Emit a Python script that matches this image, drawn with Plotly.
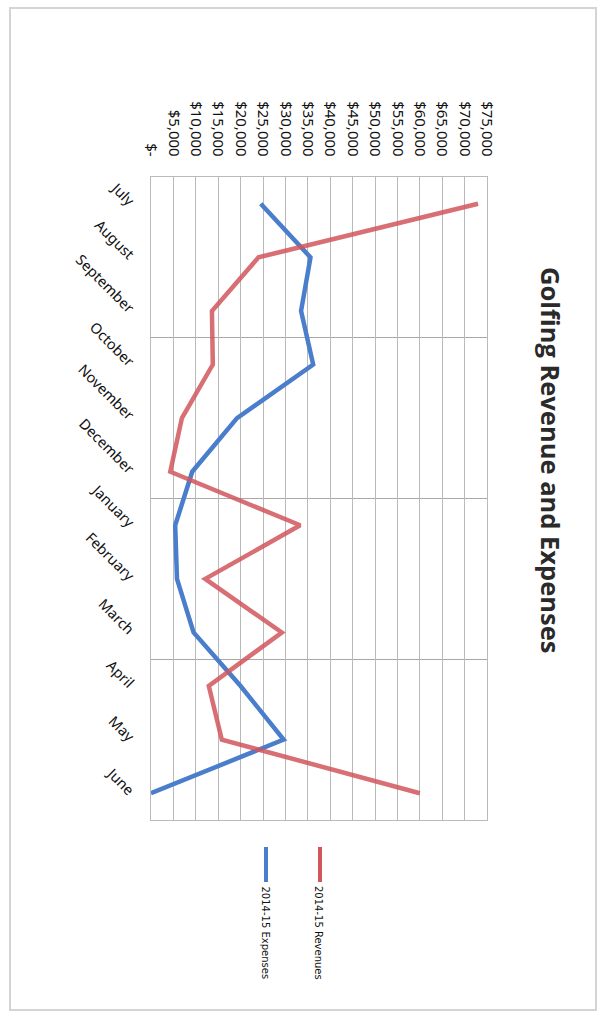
import plotly.graph_objects as go

# Monthly golf figures for the 2014-15 fiscal year
months = ["July", "August", "September", "October", "November", "December",
          "January", "February", "March", "April", "May", "June"]
revenues = [73000, 24000, 13600, 13800, 6900, 4300,
            33300, 12100, 29200, 12900, 15800, 60000]
expenses = [24500, 35600, 33500, 36200, 19200, 9200,
            5400, 5800, 9500, 20000, 29600, 0]

value_ticks = list(range(0, 75001, 5000))
value_labels = ["$-"] + [f"${v:,}" for v in value_ticks[1:]]

series_names = ["2014-15 Revenues", "2014-15 Expenses"]

RED = "#D2565C"
BLUE = "#4A7DCB"
GRID = "#BABABA"

W, H = 605, 1015
L, R, T, B = 151, 118, 177, 195
PW, PH = W - L - R, H - T - B


def px_x(p):
    return (p - L) / PW


def px_y(p):
    return (H - B - p) / PH


idx = list(range(len(months)))

fig = go.Figure()
fig.add_trace(go.Scatter(x=expenses, y=idx, mode="lines", name=series_names[1],
                         line=dict(color=BLUE, width=4.5), showlegend=False))
fig.add_trace(go.Scatter(x=revenues, y=idx, mode="lines", name=series_names[0],
                         line=dict(color=RED, width=4.5), opacity=0.85,
                         showlegend=False))

fig.update_layout(
    width=W, height=H,
    margin=dict(l=L, r=R, t=T, b=B),
    paper_bgcolor="white", plot_bgcolor="white",
    font=dict(family="Noto Sans", color="#111111"),
    xaxis=dict(
        side="top", range=[0, 75000], tickvals=value_ticks, ticktext=value_labels,
        tickangle=90, showgrid=True, gridcolor=GRID, gridwidth=1.2,
        zeroline=False, showline=True, mirror=True, linecolor=GRID, linewidth=1.2,
        ticks="", ticklabelstandoff=14, tickfont=dict(size=15, color="#111111"),
    ),
    yaxis=dict(
        range=[11.5, -0.5], tickvals=idx, ticktext=months, tickangle=45,
        showgrid=False, zeroline=False, showline=True, mirror=True,
        linecolor=GRID, linewidth=1.2, ticks="", ticklabelstandoff=14,
        tickfont=dict(size=14.5, color="#111111"),
        minor=dict(tickvals=[-0.5, 2.5, 5.5, 8.5, 11.5], showgrid=True,
                   gridcolor="#A8A8A8", gridwidth=1.4, ticks=""),
    ),
)

# Chart title, turned to run down the page
fig.add_annotation(
    text="<b>Golfing Revenue and Expenses</b>", textangle=90,
    xref="paper", yref="paper", x=px_x(551), y=px_y(460),
    xanchor="center", yanchor="middle", showarrow=False,
    font=dict(family="Open Sans", size=25.5, color="#2a2a2a"),
)

# Legend drawn as rotated swatches and labels under the plot
legend_items = [(series_names[0], RED, 320), (series_names[1], BLUE, 266)]
for name, color, xpix in legend_items:
    fig.add_shape(type="line", xref="paper", yref="paper",
                  x0=px_x(xpix), x1=px_x(xpix), y0=px_y(847), y1=px_y(882),
                  line=dict(color=color, width=4))
    fig.add_annotation(
        text=name, textangle=90, xref="paper", yref="paper",
        x=px_x(xpix - 1), y=px_y(884), xanchor="center", yanchor="top",
        showarrow=False, font=dict(family="DejaVu Sans", size=10, color="#111111"),
    )

# Page frame
fig.add_shape(type="rect", xref="paper", yref="paper",
              x0=px_x(10), x1=px_x(596), y0=px_y(1010), y1=px_y(8),
              line=dict(color="#D4D4D4", width=2), layer="below")

fig.write_html("out.html")
